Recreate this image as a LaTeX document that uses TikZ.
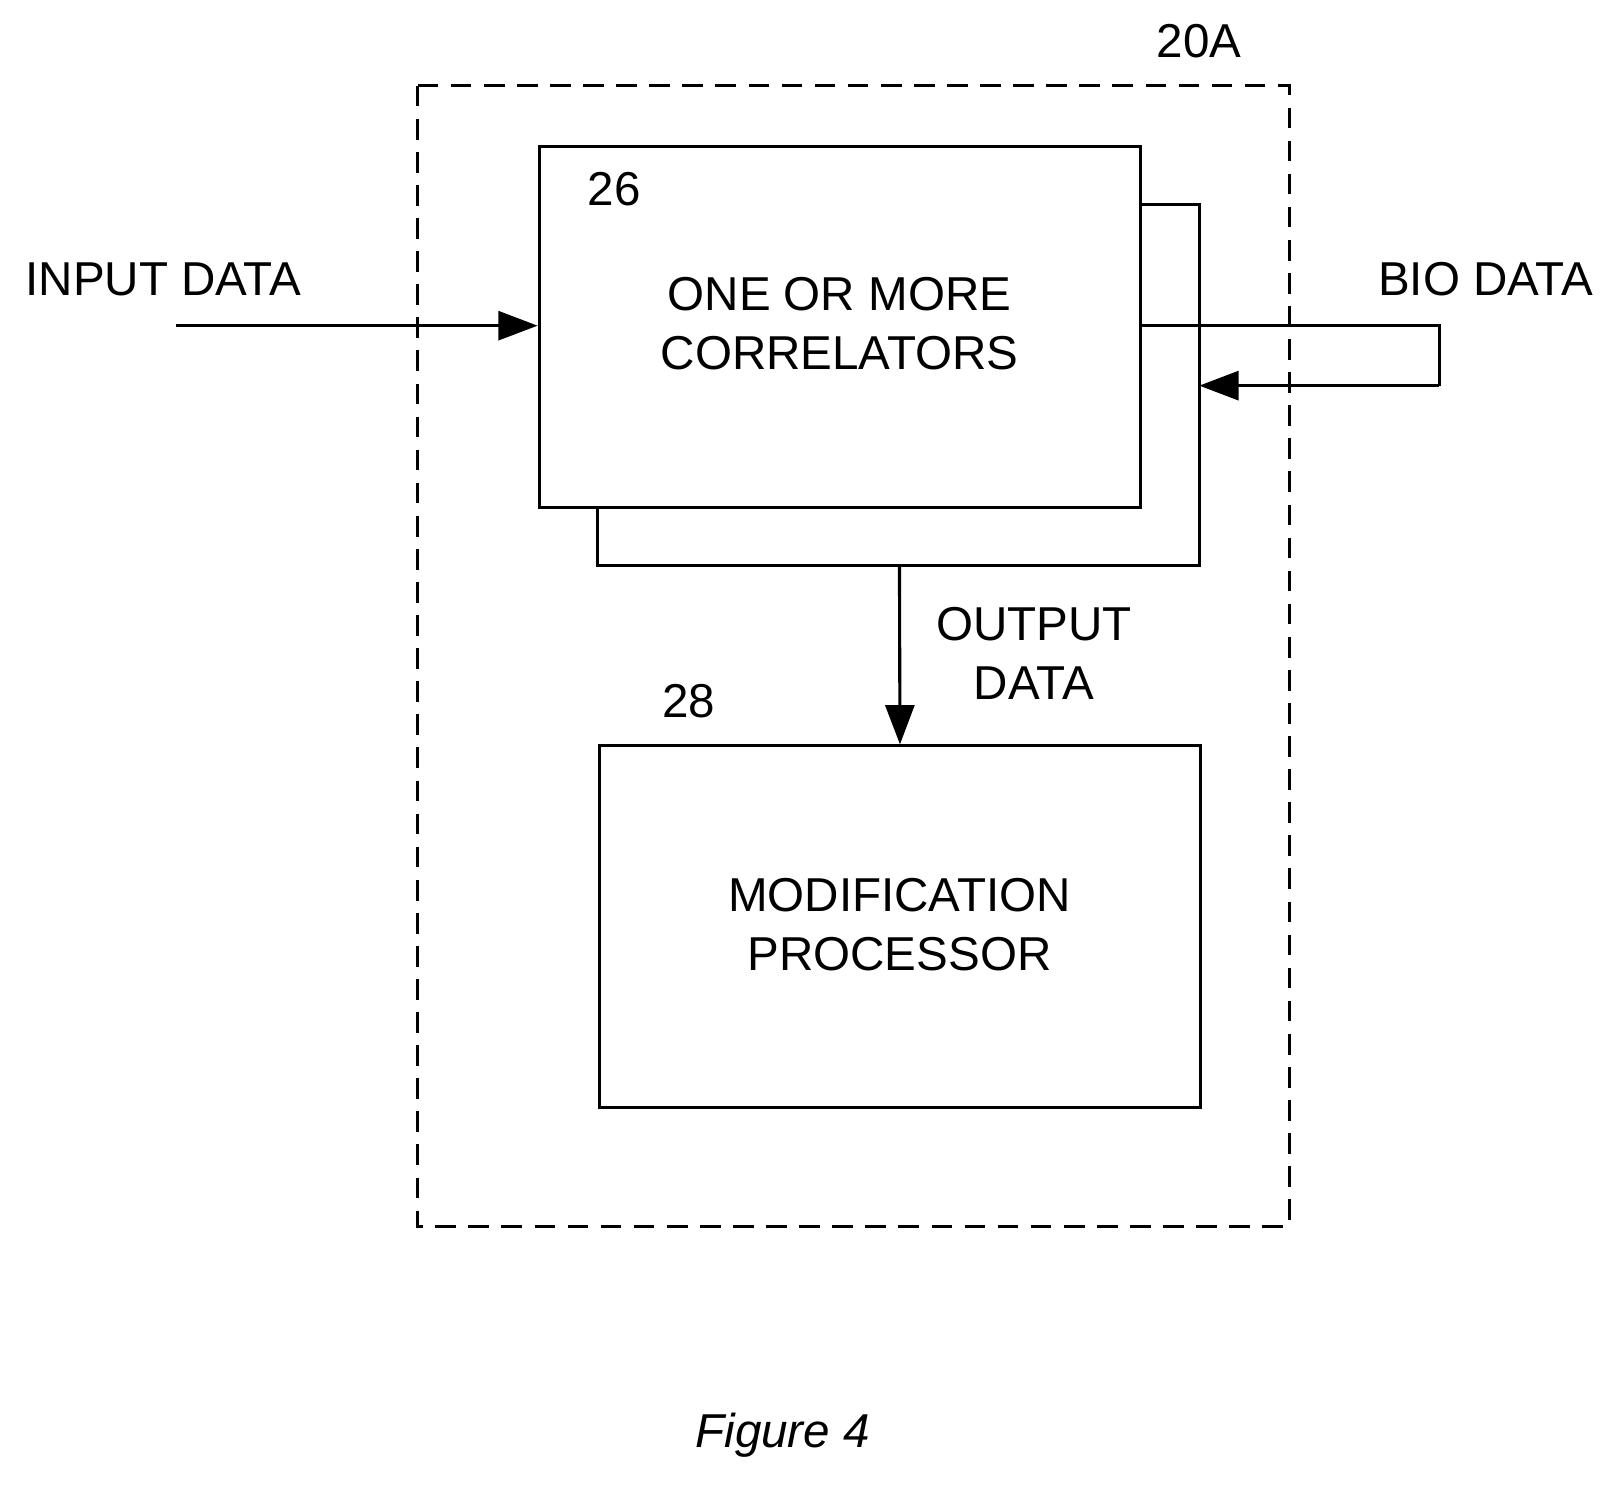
\documentclass[tikz,border=0pt]{standalone}
\usepackage{fontspec}
\setmainfont{Liberation Sans}
\usetikzlibrary{arrows.meta}
\begin{document}
\begin{tikzpicture}[x=0.5pt,y=-0.5pt,line width=1.5pt,
  lbl/.style={font=\fontsize{23}{28.5}\selectfont,inner sep=0pt,align=center},
  arr/.style={-{Triangle[length=19pt,width=14pt]}}]
\useasboundingbox (0,0) rectangle (1566,1437);
\draw[dash pattern=on 10pt off 6pt] (404,83) rectangle (1247,1186);
\draw (578,198) rectangle (1160,547);
\node[draw,fill=white,minimum width=291pt,minimum height=174.5pt,inner sep=0pt,anchor=north west] (c) at (520,140) {};
\node[draw,minimum width=291pt,minimum height=175pt,inner sep=0pt,anchor=north west] (m) at (578,720) {};
\coordinate (s) at (1160,547);
\coordinate (in) at (170,315);
\coordinate (b1) at (1392,315);
\coordinate (b2) at (1392,373);
\coordinate (b3) at (1160,373);
\draw[arr] (in) -- (520,315);
\draw (1102,315) -- (b1) -- (b2);
\draw[arr] (b2) -- (b3);
\draw[arr] (870,547) -- (m.north);
\node[lbl] (t20) at (1160,40) {20A};
\node[lbl] (t26) at (594,183) {26};
\node[lbl] (tin) at (158,270) {INPUT DATA};
\node[lbl] (tbio) at (1437,270) {BIO DATA};
\node[lbl] (tc) at (812,313) {ONE OR MORE\\CORRELATORS};
\node[lbl] (to) at (1000,632) {OUTPUT\\DATA};
\node[lbl] (t28) at (666,678) {28};
\node[lbl] (tm) at (870,894) {MODIFICATION\\PROCESSOR};
\node[lbl,font=\fontsize{23}{28}\selectfont\itshape] (fig) at (757,1388) {Figure 4};
\end{tikzpicture}
\end{document}
